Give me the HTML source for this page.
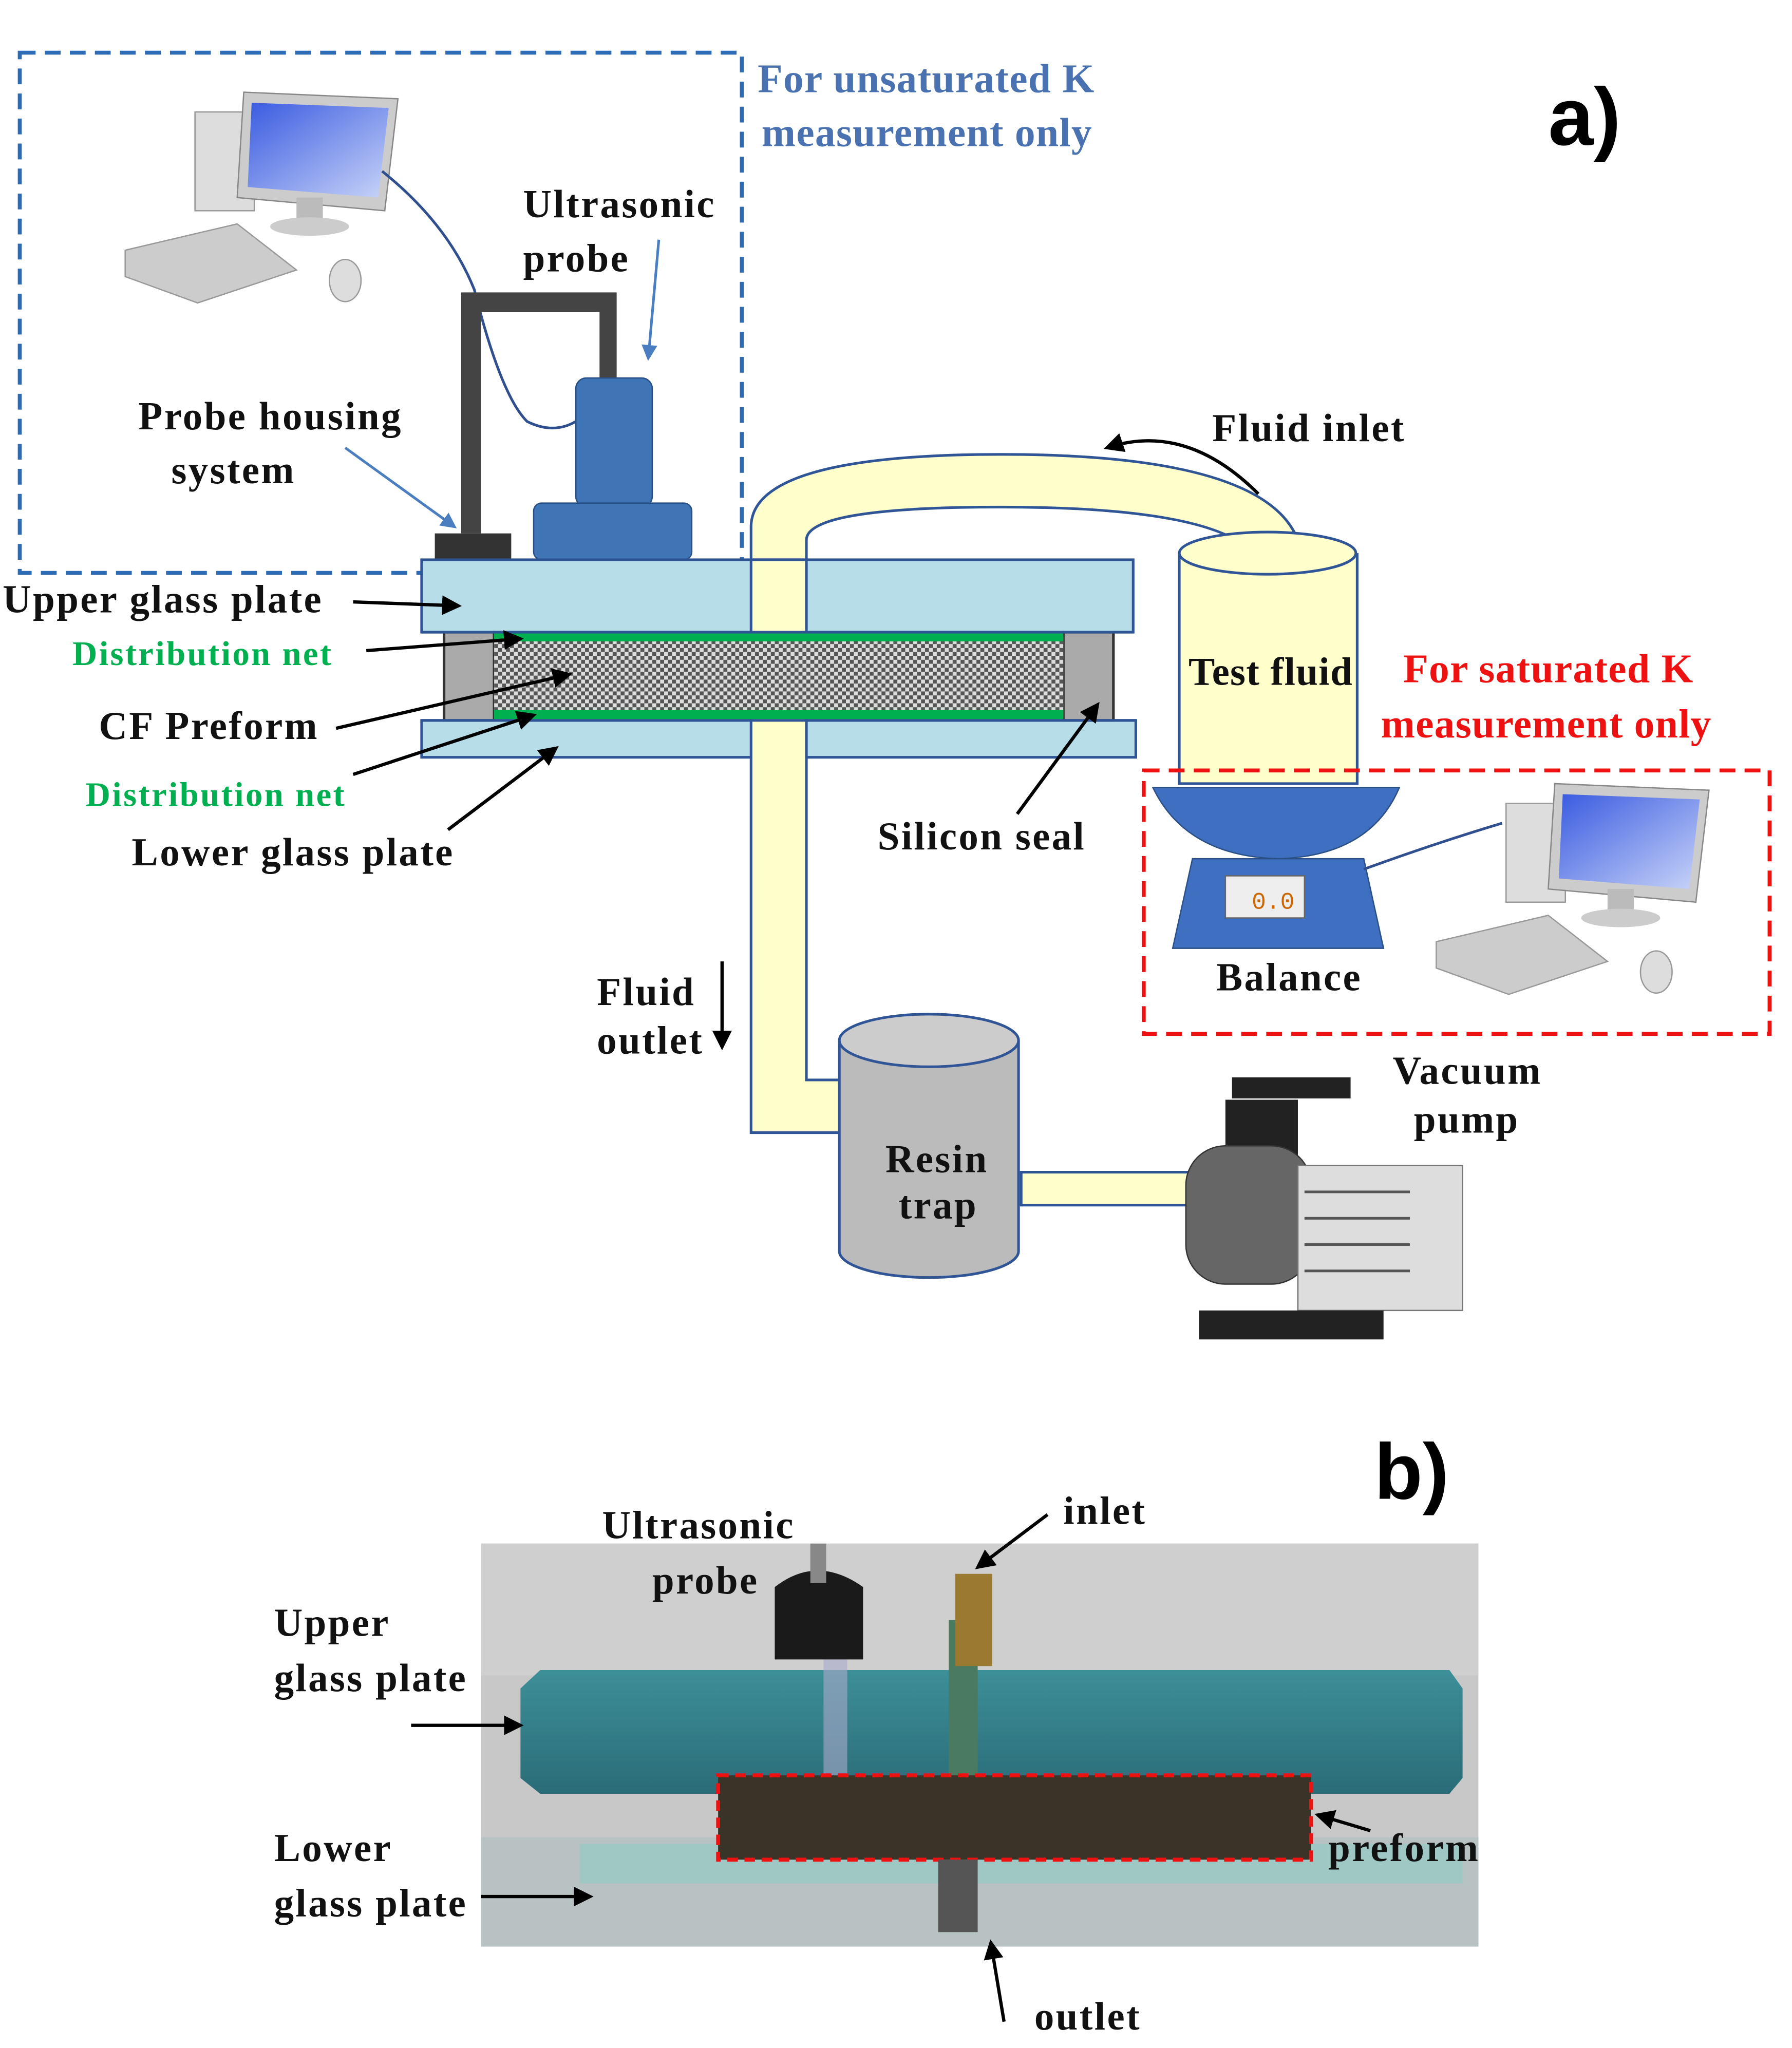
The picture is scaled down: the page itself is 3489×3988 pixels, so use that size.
<!DOCTYPE html>
<html><head><meta charset="utf-8"><style>
html,body{margin:0;padding:0;background:#fff}
svg{display:block}
.t{font-family:"Liberation Serif",serif;font-weight:bold;font-size:30px;fill:#111;letter-spacing:1.3px}
.g{fill:#00b050;font-size:26px}
.b{fill:#4a72b0;font-size:31px;letter-spacing:0.5px}
.r{fill:#ee1111;font-size:31px;letter-spacing:0.5px}
</style></head><body>
<svg width="3489" height="3988" viewBox="0 0 1360 1555" preserveAspectRatio="none" xmlns="http://www.w3.org/2000/svg">
<defs>
<pattern id="chk" width="6" height="6" patternUnits="userSpaceOnUse"><rect width="6" height="6" fill="#ddd"/><rect width="3" height="3" fill="#555"/><rect x="3" y="3" width="3" height="3" fill="#555"/></pattern>
<marker id="ah" markerWidth="6" markerHeight="6" refX="5" refY="3" orient="auto"><path d="M0,0 L6,3 L0,6 z" fill="#000"/></marker>
<marker id="ab" markerWidth="6" markerHeight="6" refX="5" refY="3" orient="auto"><path d="M0,0 L6,3 L0,6 z" fill="#4a7ec0"/></marker>
<linearGradient id="scr" x1="0" y1="0" x2="1" y2="1"><stop offset="0" stop-color="#3a5be0"/><stop offset="1" stop-color="#c8d4f8"/></linearGradient>
<linearGradient id="glass" x1="0" y1="0" x2="0" y2="1"><stop offset="0" stop-color="#3d8f98"/><stop offset="1" stop-color="#2a6c78"/></linearGradient>
</defs>
<rect x="15" y="40" width="548" height="395" fill="none" stroke="#2e6bb5" stroke-width="3" stroke-dasharray="12,7"/>
<text class="t b" x="575" y="70">For unsaturated K</text>
<text class="t b" x="578" y="111">measurement only</text>
<text x="1175" y="110" font-family="Liberation Sans,sans-serif" font-weight="bold" font-size="62">a)</text>
<g id="pc">
<rect x="148" y="85" width="45" height="75" fill="#ddd" stroke="#999"/>
<polygon points="185,70 302,75 292,160 180,150" fill="#ccc" stroke="#888"/>
<polygon points="191,78 295,82 287,150 188,142" fill="url(#scr)"/>
<rect x="225" y="150" width="20" height="18" fill="#bbb"/>
<ellipse cx="235" cy="172" rx="30" ry="7" fill="#ccc"/>
<polygon points="95,190 180,170 225,205 150,230 95,210" fill="#ccc" stroke="#999"/>
<ellipse cx="262" cy="213" rx="12" ry="16" fill="#ddd" stroke="#999"/>
</g>
<path d="M290,130 Q340,170 360,220 Q380,300 400,320 Q420,330 437,320" fill="none" stroke="#2f4f8f" stroke-width="2"/>
<path d="M350,405 V222 H468 V290 H455 V237 H365 V405 Z" fill="#444"/>
<rect x="330" y="405" width="58" height="20" fill="#333"/>
<rect x="437" y="287" width="58" height="98" rx="8" fill="#3f74b5" stroke="#2a4f85"/>
<rect x="405" y="382" width="120" height="43" rx="6" fill="#3f74b5" stroke="#2a4f85"/>
<text class="t" x="397" y="165">Ultrasonic</text>
<text class="t" x="397" y="206">probe</text>
<line x1="500" y1="182" x2="492" y2="272" stroke="#4a7ec0" stroke-width="2" marker-end="url(#ab)"/>
<text class="t" x="105" y="326">Probe housing</text>
<text class="t" x="130" y="367">system</text>
<line x1="262" y1="340" x2="345" y2="400" stroke="#4a7ec0" stroke-width="2" marker-end="url(#ab)"/>
<path d="M570,425 V400 Q570,345 760,345 Q960,345 985,410 L955,425 Q930,385 760,385 Q612,385 612,410 V425" fill="#ffffcc" stroke="#2f5597" stroke-width="2"/>
<path d="M895,420 V595 H1030 V420" fill="#ffffcc" stroke="#2f5597" stroke-width="2"/>
<ellipse cx="962" cy="420" rx="67" ry="16" fill="#ffffcc" stroke="#2f5597" stroke-width="2"/>
<path d="M945,425 Q960,400 985,410 L985,425Z" fill="#ffffcc"/>
<text class="t" x="902" y="520" font-size="26" style="letter-spacing:0.5px">Test  fluid</text>
<rect x="320" y="425" width="540" height="55" fill="#b7dde8" stroke="#2f5597" stroke-width="2"/>
<rect x="320" y="547" width="542" height="28" fill="#b7dde8" stroke="#2f5597" stroke-width="2"/>
<path d="M570,425 V860 H640 V820 H612 V425 Z" fill="#ffffcc" stroke="#2f5597" stroke-width="2"/>
<rect x="337" y="480" width="38" height="67" fill="#aaa" stroke="#333" stroke-width="2"/>
<rect x="807" y="480" width="38" height="67" fill="#aaa" stroke="#333" stroke-width="2"/>
<rect x="375" y="483" width="432" height="62" fill="url(#chk)"/>
<rect x="375" y="480" width="432" height="7" fill="#00b050"/>
<rect x="375" y="539" width="432" height="7" fill="#00b050"/>
<line x1="320" y1="480" x2="860" y2="480" stroke="#2f5597" stroke-width="2"/>
<line x1="320" y1="547" x2="862" y2="547" stroke="#2f5597" stroke-width="2"/>
<text class="t" x="2" y="465">Upper glass plate</text>
<line x1="268" y1="457" x2="348" y2="460" stroke="#000" stroke-width="2.5" marker-end="url(#ah)"/>
<text class="t g" x="55" y="505">Distribution  net</text>
<line x1="278" y1="494" x2="395" y2="485" stroke="#000" stroke-width="2.5" marker-end="url(#ah)"/>
<text class="t" x="75" y="561">CF Preform</text>
<line x1="255" y1="553" x2="432" y2="512" stroke="#000" stroke-width="2.5" marker-end="url(#ah)"/>
<text class="t g" x="65" y="612">Distribution  net</text>
<line x1="268" y1="588" x2="405" y2="543" stroke="#000" stroke-width="2.5" marker-end="url(#ah)"/>
<text class="t" x="100" y="657">Lower glass plate</text>
<line x1="340" y1="630" x2="422" y2="568" stroke="#000" stroke-width="2.5" marker-end="url(#ah)"/>
<text class="t" x="666" y="645" font-size="27">Silicon  seal</text>
<line x1="772" y1="618" x2="833" y2="535" stroke="#000" stroke-width="2.5" marker-end="url(#ah)"/>
<text class="t" x="920" y="335" font-size="27">Fluid  inlet</text>
<path d="M955,375 Q900,320 840,340" fill="none" stroke="#000" stroke-width="2.5" marker-end="url(#ah)"/>
<text class="t r" x="1065" y="518">For saturated K</text>
<text class="t r" x="1048" y="560">measurement only</text>
<rect x="868" y="585" width="475" height="200" fill="none" stroke="#ee1111" stroke-width="3" stroke-dasharray="12,7"/>
<path d="M875,598 H1062 Q1040,650 970,652 Q900,650 875,598Z" fill="#3f6fc0" stroke="#2a4f85"/>
<path d="M905,652 H1035 L1050,720 H890 Z" fill="#3f6fc0" stroke="#2a4f85"/>
<rect x="930" y="665" width="60" height="32" fill="#eee" stroke="#666"/>
<text x="950" y="690" font-family="Liberation Mono,monospace" font-size="18" fill="#c60">0.0</text>
<path d="M1035,660 Q1090,640 1140,625" fill="none" stroke="#2f4f8f" stroke-width="2"/>
<text class="t" x="923" y="752" font-size="27">Balance</text>
<use href="#pc" transform="translate(995,525)"/>
<text class="t" x="453" y="763" font-size="27">Fluid</text>
<text class="t" x="453" y="800" font-size="27">outlet</text>
<line x1="548" y1="730" x2="548" y2="795" stroke="#000" stroke-width="2.5" marker-end="url(#ah)"/>
<path d="M775,890 H905 V915 H775 Z" fill="#ffffcc" stroke="#2f5597" stroke-width="2"/>
<path d="M637,790 V950 A68,20 0 0 0 773,950 V790" fill="#bbb" stroke="#2f5597" stroke-width="2"/>
<ellipse cx="705" cy="790" rx="68" ry="20" fill="#ccc" stroke="#2f5597" stroke-width="2"/>
<text class="t" x="672" y="890" font-size="27">Resin</text>
<text class="t" x="682" y="925" font-size="27">trap</text>
<text class="t" x="1057" y="823" font-size="27">Vacuum</text>
<text class="t" x="1073" y="860" font-size="27">pump</text>
<rect x="935" y="818" width="90" height="16" fill="#222"/>
<rect x="930" y="835" width="55" height="55" fill="#222"/>
<rect x="900" y="870" width="95" height="105" rx="30" fill="#666" stroke="#333"/>
<rect x="985" y="885" width="125" height="110" fill="#ddd" stroke="#777"/>
<g stroke="#555" stroke-width="2"><line x1="990" y1="905" x2="1070" y2="905"/><line x1="990" y1="925" x2="1070" y2="925"/><line x1="990" y1="945" x2="1070" y2="945"/><line x1="990" y1="965" x2="1070" y2="965"/></g>
<rect x="910" y="995" width="140" height="22" fill="#222"/>
<text x="1043" y="1138" font-family="Liberation Sans,sans-serif" font-weight="bold" font-size="60">b)</text>
<rect x="365" y="1172" width="757" height="306" fill="#c8c8c8"/>
<rect x="365" y="1172" width="757" height="100" fill="#cfcfcf"/>
<rect x="365" y="1395" width="757" height="83" fill="#b9c2c2"/>
<rect x="440" y="1400" width="670" height="30" fill="#9fc8c4"/>
<polygon points="395,1282 410,1268 1100,1268 1110,1282 1110,1350 1100,1362 410,1362 395,1350" fill="url(#glass)"/>
<rect x="625" y="1260" width="18" height="100" fill="#aac" opacity="0.6"/>
<rect x="720" y="1230" width="22" height="130" fill="#4a7a60"/>
<rect x="725" y="1195" width="28" height="70" fill="#9a7a30"/>
<path d="M588,1205 Q620,1180 655,1205 V1260 H588Z" fill="#1a1a1a"/>
<rect x="615" y="1172" width="12" height="30" fill="#888"/>
<rect x="545" y="1348" width="450" height="64" fill="#3a3428" stroke="#ee1111" stroke-width="3" stroke-dasharray="8,5"/>
<rect x="712" y="1412" width="30" height="55" fill="#555"/>
<text class="t" x="457" y="1168">Ultrasonic</text>
<text class="t" x="495" y="1210">probe</text>
<text class="t" x="807" y="1157">inlet</text>
<line x1="795" y1="1150" x2="742" y2="1190" stroke="#000" stroke-width="2.5" marker-end="url(#ah)"/>
<text class="t" x="208" y="1242">Upper</text>
<text class="t" x="208" y="1284">glass plate</text>
<line x1="312" y1="1310" x2="395" y2="1310" stroke="#000" stroke-width="2.5" marker-end="url(#ah)"/>
<text class="t" x="208" y="1413">Lower</text>
<text class="t" x="208" y="1455">glass plate</text>
<line x1="365" y1="1440" x2="448" y2="1440" stroke="#000" stroke-width="2.5" marker-end="url(#ah)"/>
<text class="t" x="1008" y="1413">preform</text>
<line x1="1040" y1="1390" x2="1000" y2="1378" stroke="#000" stroke-width="2.5" marker-end="url(#ah)"/>
<line x1="762" y1="1535" x2="752" y2="1475" stroke="#000" stroke-width="2.5" marker-end="url(#ah)"/>
<text class="t" x="785" y="1541">outlet</text>
</svg>
</body></html>
